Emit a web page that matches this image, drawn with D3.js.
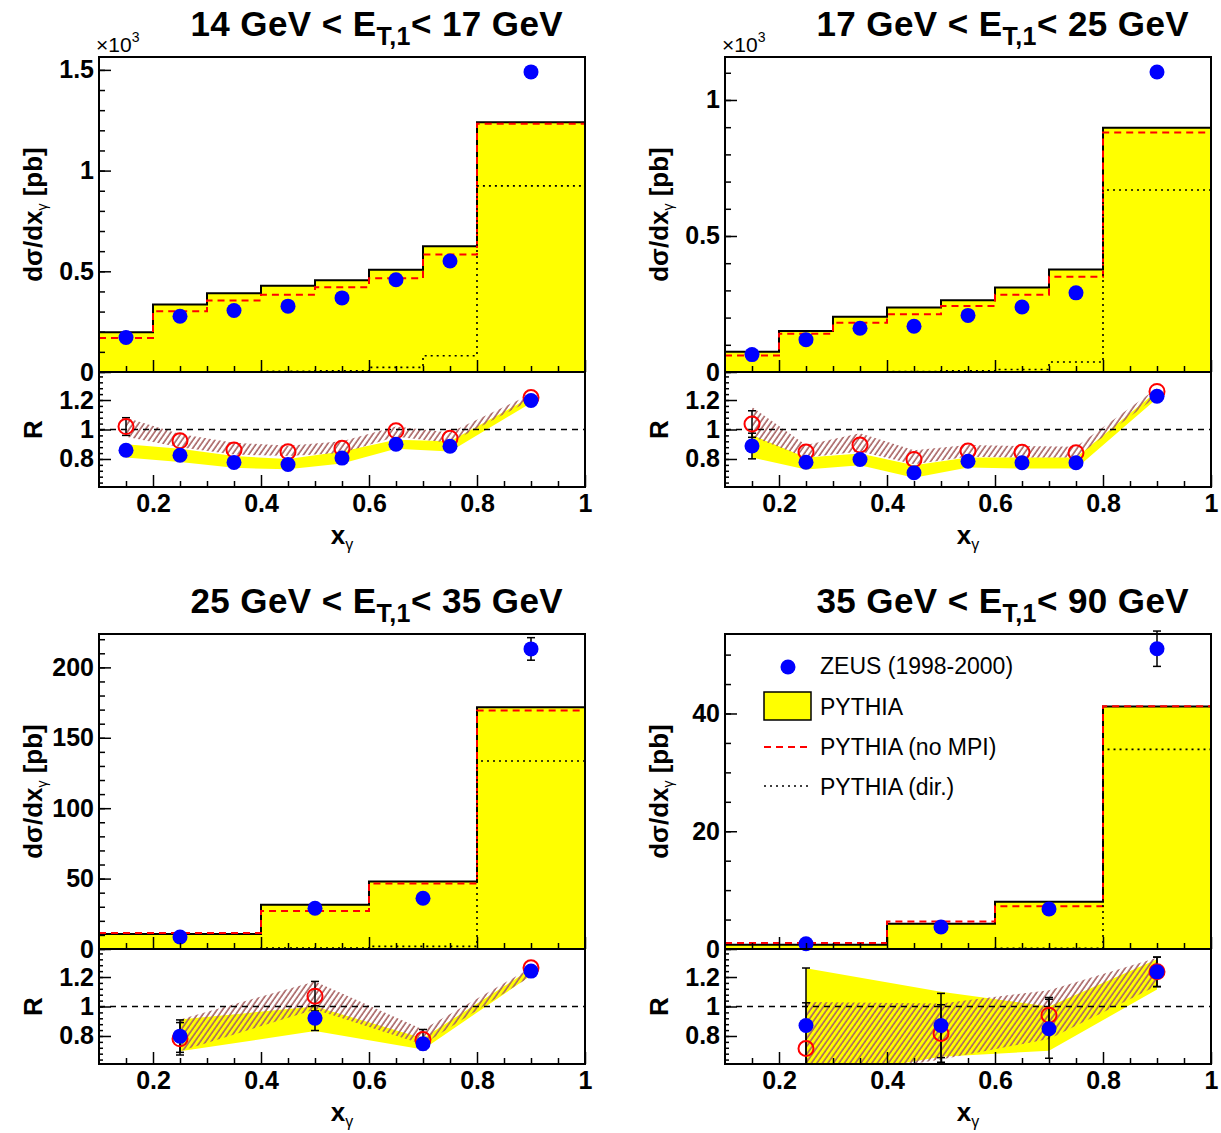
<!DOCTYPE html>
<html>
<head>
<meta charset="utf-8">
<script src="https://cdn.jsdelivr.net/npm/d3@7"></script>
<style>
  body { margin: 0; background: #fff; }
  text { font-family: "Liberation Sans", Arial, Helvetica, sans-serif; }
</style>
</head>
<body>
<div id="chart"></div>
<script>
// ---- bin layout (x_gamma) ----
var edgesFine = [0.1, 0.2, 0.3, 0.4, 0.5, 0.6, 0.7, 0.8, 1.0];
var edgesCoarse = [0.1, 0.4, 0.6, 0.8, 1.0];
var xFine = [0.15, 0.25, 0.35, 0.45, 0.55, 0.65, 0.75, 0.9];
var xCoarse = [0.25, 0.5, 0.7, 0.9];

// ---- 14 GeV < ET,1 < 17 GeV (x10^3 pb) ----
var p1Pythia = [0.197, 0.335, 0.391, 0.428, 0.455, 0.508, 0.624, 1.240];
var p1NoMpi  = [0.169, 0.302, 0.355, 0.383, 0.421, 0.466, 0.584, 1.233];
var p1Dir    = [0.000, 0.000, 0.001, 0.003, 0.006, 0.023, 0.081, 0.924];
var p1Zeus   = [0.171, 0.277, 0.305, 0.327, 0.368, 0.458, 0.551, 1.490];
var p1ZeusErr = [0.004, 0.005, 0.005, 0.005, 0.006, 0.007, 0.008, 0.015];
var p1R      = [0.859, 0.825, 0.777, 0.763, 0.806, 0.900, 0.886, 1.197];
var p1RErr   = [0.05, 0.015, 0.015, 0.015, 0.015, 0.015, 0.015, 0.012];
var p1RNoMpi = [1.020, 0.923, 0.861, 0.849, 0.872, 0.991, 0.941, 1.217];
var p1RNoMpiErr = [0.06, 0.015, 0.015, 0.015, 0.015, 0.015, 0.015, 0.012];
var p1BandLo  = [0.81, 0.78, 0.74, 0.73, 0.77, 0.87, 0.85, 1.18];
var p1BandHi  = [0.90, 0.87, 0.82, 0.80, 0.85, 0.93, 0.92, 1.22];
var p1HatchLo = [0.95, 0.88, 0.83, 0.82, 0.84, 0.95, 0.91, 1.20];
var p1HatchHi = [1.08, 0.97, 0.91, 0.89, 0.92, 1.02, 0.98, 1.24];

// ---- 17 GeV < ET,1 < 25 GeV (x10^3 pb) ----
var p2Pythia = [0.074, 0.151, 0.203, 0.237, 0.264, 0.311, 0.377, 0.898];
var p2NoMpi  = [0.061, 0.141, 0.181, 0.212, 0.243, 0.284, 0.350, 0.880];
var p2Dir    = [0.000, 0.000, 0.001, 0.002, 0.004, 0.009, 0.037, 0.669];
var p2Zeus   = [0.064, 0.119, 0.161, 0.168, 0.208, 0.239, 0.291, 1.103];
var p2ZeusErr = [0.004, 0.004, 0.005, 0.005, 0.005, 0.006, 0.007, 0.015];
var p2R      = [0.888, 0.778, 0.797, 0.707, 0.785, 0.774, 0.774, 1.226];
var p2RErr   = [0.087, 0.015, 0.015, 0.015, 0.015, 0.015, 0.015, 0.015];
var p2RNoMpi = [1.037, 0.847, 0.895, 0.797, 0.854, 0.845, 0.842, 1.258];
var p2RNoMpiErr = [0.09, 0.015, 0.015, 0.015, 0.015, 0.015, 0.015, 0.015];
var p2BandLo  = [0.81, 0.728, 0.758, 0.673, 0.742, 0.735, 0.735, 1.21];
var p2BandHi  = [0.963, 0.81, 0.838, 0.758, 0.81, 0.81, 0.81, 1.26];
var p2HatchLo = [0.952, 0.81, 0.85, 0.765, 0.815, 0.81, 0.81, 1.226];
var p2HatchHi = [1.153, 0.895, 0.975, 0.86, 0.895, 0.888, 0.883, 1.28];

// ---- 25 GeV < ET,1 < 35 GeV (pb) ----
var p3Pythia = [10.6, 31.5, 48.0, 171.6];
var p3NoMpi  = [11.4, 27.0, 46.6, 169.3];
var p3Dir    = [0.0, 0.7, 1.9, 133.5];
var p3Zeus   = [8.5, 28.9, 36.0, 213.1];
var p3ZeusErr = [0.5, 1.2, 1.5, 8.0];
var p3R      = [0.799, 0.921, 0.747, 1.24];
var p3RErr   = [0.11, 0.084, 0.05, 0.02];
var p3RNoMpi = [0.781, 1.07, 0.776, 1.262];
var p3RNoMpiErr = [0.11, 0.10, 0.068, 0.02];
var p3BandLo  = [0.697, 0.833, 0.708, 1.21];
var p3BandHi  = [0.912, 1.00, 0.785, 1.255];
var p3HatchLo = [0.697, 0.98, 0.742, 1.206];
var p3HatchHi = [0.912, 1.17, 0.844, 1.262];

// ---- 35 GeV < ET,1 < 90 GeV (pb) ----
var p4Pythia = [0.73, 4.30, 8.04, 41.2];
var p4NoMpi  = [1.02, 4.69, 7.24, 41.25];
var p4Dir    = [0.02, 0.05, 0.1, 33.9];
var p4Zeus   = [0.9, 3.74, 6.8, 51.0];
var p4ZeusErr = [0.1, 0.3, 0.5, 3.0];
var p4R      = [0.871, 0.871, 0.849, 1.235];
var p4RErr   = [0.39, 0.218, 0.2, 0.10];
var p4RNoMpi = [0.715, 0.817, 0.941, 1.235];
var p4RNoMpiErr = [0.31, 0.195, 0.12, 0.10];
var p4BandLo  = [0.50, 0.66, 0.70, 1.115];
var p4BandHi  = [1.26, 1.10, 1.00, 1.32];
var p4HatchLo = [0.50, 0.64, 0.78, 1.14];
var p4HatchHi = [1.03, 1.02, 1.11, 1.33];

// ---- tick labels ----
var xTicks = [0.2, 0.4, 0.6, 0.8, 1.0];
var rTicks = [0.8, 1.0, 1.2];

function init() {
    var w = 1221, h = 1133;
    var svg = d3.select("#chart").append("svg")
        .attr("width", w).attr("height", h);

    var defs = svg.append("defs");
    defs.append("pattern")
        .attr("id", "hatch")
        .attr("patternUnits", "userSpaceOnUse")
        .attr("width", 4.5).attr("height", 10)
        .attr("patternTransform", "rotate(35)")
        .append("line")
        .attr("x1", 1).attr("y1", 0).attr("x2", 1).attr("y2", 10)
        .attr("stroke", "#a86464").attr("stroke-width", 1.6);

    var panels = [
        { lo: "14", hi: "17", box: { x0: 99, x1: 585, yT: 57, yS: 372, yB: 487 },
          edges: edgesFine, xs: xFine, pythia: p1Pythia, noMpi: p1NoMpi, dir: p1Dir,
          zeus: p1Zeus, zeusErr: p1ZeusErr, r: p1R, rErr: p1RErr, rn: p1RNoMpi, rnErr: p1RNoMpiErr,
          bLo: p1BandLo, bHi: p1BandHi, hLo: p1HatchLo, hHi: p1HatchHi,
          yMax: 1.564, yMajor: [0, 0.5, 1, 1.5], yMinor: 0.1, exp: true },
        { lo: "17", hi: "25", box: { x0: 725, x1: 1211, yT: 57, yS: 372, yB: 487 },
          edges: edgesFine, xs: xFine, pythia: p2Pythia, noMpi: p2NoMpi, dir: p2Dir,
          zeus: p2Zeus, zeusErr: p2ZeusErr, r: p2R, rErr: p2RErr, rn: p2RNoMpi, rnErr: p2RNoMpiErr,
          bLo: p2BandLo, bHi: p2BandHi, hLo: p2HatchLo, hHi: p2HatchHi,
          yMax: 1.158, yMajor: [0, 0.5, 1], yMinor: 0.1, exp: true },
        { lo: "25", hi: "35", box: { x0: 99, x1: 585, yT: 634, yS: 949, yB: 1064 },
          edges: edgesCoarse, xs: xCoarse, pythia: p3Pythia, noMpi: p3NoMpi, dir: p3Dir,
          zeus: p3Zeus, zeusErr: p3ZeusErr, r: p3R, rErr: p3RErr, rn: p3RNoMpi, rnErr: p3RNoMpiErr,
          bLo: p3BandLo, bHi: p3BandHi, hLo: p3HatchLo, hHi: p3HatchHi,
          yMax: 223.7, yMajor: [0, 50, 100, 150, 200], yMinor: 10, exp: false },
        { lo: "35", hi: "90", box: { x0: 725, x1: 1211, yT: 634, yS: 949, yB: 1064 },
          edges: edgesCoarse, xs: xCoarse, pythia: p4Pythia, noMpi: p4NoMpi, dir: p4Dir,
          zeus: p4Zeus, zeusErr: p4ZeusErr, r: p4R, rErr: p4RErr, rn: p4RNoMpi, rnErr: p4RNoMpiErr,
          bLo: p4BandLo, bHi: p4BandHi, hLo: p4HatchLo, hHi: p4HatchHi,
          yMax: 53.5, yMajor: [0, 20, 40], yMinor: 5, exp: false, legend: true }
    ];

    var xMinor = d3.range(0.15, 1.0, 0.05).filter(function (v) {
        return Math.abs(v * 5 - Math.round(v * 5)) > 1e-6;
    });
    var rMinor = d3.range(0.64, 1.38, 0.04);

    panels.forEach(function (p, i) {
        var b = p.box;
        var g = svg.append("g");

        var x = d3.scaleLinear().domain([0.1, 1.0]).range([b.x0, b.x1]);
        var y = d3.scaleLinear().domain([0, p.yMax]).range([b.yS, b.yT]);
        var yr = d3.scaleLinear().domain([0.61, 1.39]).range([b.yB, b.yS]);

        // step histograms
        function pts(vals) {
            return p.edges.map(function (e, k) { return [e, vals[Math.min(k, vals.length - 1)]]; });
        }
        var step = d3.line().curve(d3.curveStepAfter)
            .x(function (d) { return x(d[0]); })
            .y(function (d) { return y(d[1]); });
        var stepArea = d3.area().curve(d3.curveStepAfter)
            .x(function (d) { return x(d[0]); })
            .y0(y(0))
            .y1(function (d) { return y(d[1]); });

        g.append("path").attr("d", stepArea(pts(p.pythia))).attr("fill", "#ffff00");
        g.append("path").attr("d", step(pts(p.pythia)))
            .attr("fill", "none").attr("stroke", "#000").attr("stroke-width", 2);
        g.append("path").attr("d", step(pts(p.noMpi)))
            .attr("fill", "none").attr("stroke", "#ff0000").attr("stroke-width", 2)
            .attr("stroke-dasharray", "7,5");
        g.append("path").attr("d", step(pts(p.dir)))
            .attr("fill", "none").attr("stroke", "#000").attr("stroke-width", 1.6)
            .attr("stroke-dasharray", "2,4");

        // error bar helper: skipped when hidden behind the marker
        function errBar(sel, cx, yLo, yHi) {
            if (Math.abs(yLo - yHi) < 15) return;
            sel.append("line").attr("x1", cx).attr("x2", cx)
                .attr("y1", yLo).attr("y2", yHi)
                .attr("stroke", "#000").attr("stroke-width", 1.5);
            [yLo, yHi].forEach(function (v) {
                sel.append("line").attr("x1", cx - 4).attr("x2", cx + 4)
                    .attr("y1", v).attr("y2", v)
                    .attr("stroke", "#000").attr("stroke-width", 1.5);
            });
        }

        // ZEUS data
        var up = g.append("g");
        p.xs.forEach(function (xv, k) {
            errBar(up, x(xv), y(p.zeus[k] - p.zeusErr[k]), y(p.zeus[k] + p.zeusErr[k]));
        });
        up.selectAll("circle").data(p.xs).enter().append("circle")
            .attr("cx", function (d) { return x(d); })
            .attr("cy", function (d, k) { return y(p.zeus[k]); })
            .attr("r", 7.5).attr("fill", "#0000ff");

        // ratio pad
        var clipId = "clipR" + i;
        defs.append("clipPath").attr("id", clipId).append("rect")
            .attr("x", b.x0).attr("y", b.yS).attr("width", b.x1 - b.x0).attr("height", b.yB - b.yS);
        var rg = g.append("g").attr("clip-path", "url(#" + clipId + ")");

        var band = function (lo, hi) {
            return d3.area()
                .x(function (d) { return x(d); })
                .y0(function (d, k) { return yr(lo[k]); })
                .y1(function (d, k) { return yr(hi[k]); })(p.xs);
        };
        rg.append("path").attr("d", band(p.bLo, p.bHi)).attr("fill", "#ffff00");
        rg.append("path").attr("d", band(p.hLo, p.hHi)).attr("fill", "url(#hatch)");

        rg.append("line").attr("x1", b.x0).attr("x2", b.x1)
            .attr("y1", yr(1)).attr("y2", yr(1))
            .attr("stroke", "#000").attr("stroke-width", 1.5).attr("stroke-dasharray", "6,5");

        p.xs.forEach(function (xv, k) {
            errBar(rg, x(xv), yr(p.rn[k] - p.rnErr[k]), yr(p.rn[k] + p.rnErr[k]));
            errBar(rg, x(xv), yr(p.r[k] - p.rErr[k]), yr(p.r[k] + p.rErr[k]));
        });

        rg.selectAll("circle.open").data(p.xs).enter().append("circle")
            .attr("class", "open")
            .attr("cx", function (d) { return x(d); })
            .attr("cy", function (d, k) { return yr(p.rn[k]); })
            .attr("r", 7.5).attr("fill", "none").attr("stroke", "#ff0000").attr("stroke-width", 2);
        rg.selectAll("circle.full").data(p.xs).enter().append("circle")
            .attr("class", "full")
            .attr("cx", function (d) { return x(d); })
            .attr("cy", function (d, k) { return yr(p.r[k]); })
            .attr("r", 7.5).attr("fill", "#0000ff");

        // axes (ticks inside the frame)
        function styleAxis(sel) {
            sel.select(".domain").remove();
            sel.selectAll("line").attr("stroke", "#000").attr("stroke-width", 1.5);
            sel.selectAll("text").attr("font-size", "25px").attr("font-weight", "bold")
                .attr("fill", "#000");
        }
        var fmtY = function (d) { return d3.format("~g")(d); };

        g.append("g").attr("transform", "translate(" + b.x0 + ",0)")
            .call(d3.axisLeft(y).tickValues(d3.range(0, p.yMax, p.yMinor)).tickSize(-6).tickFormat(""))
            .call(styleAxis);
        g.append("g").attr("transform", "translate(" + b.x0 + ",0)")
            .call(d3.axisLeft(y).tickValues(p.yMajor).tickSize(-12).tickPadding(5).tickFormat(fmtY))
            .call(styleAxis);

        g.append("g").attr("transform", "translate(0," + b.yS + ")")
            .call(d3.axisBottom(x).tickValues(xMinor).tickSize(-6).tickFormat(""))
            .call(styleAxis);
        g.append("g").attr("transform", "translate(0," + b.yS + ")")
            .call(d3.axisBottom(x).tickValues(xTicks).tickSize(-12).tickFormat(""))
            .call(styleAxis);

        g.append("g").attr("transform", "translate(" + b.x0 + ",0)")
            .call(d3.axisLeft(yr).tickValues(rMinor).tickSize(-4).tickFormat(""))
            .call(styleAxis);
        g.append("g").attr("transform", "translate(" + b.x0 + ",0)")
            .call(d3.axisLeft(yr).tickValues(rTicks).tickSize(-12).tickPadding(5).tickFormat(fmtY))
            .call(styleAxis);

        g.append("g").attr("transform", "translate(0," + b.yB + ")")
            .call(d3.axisBottom(x).tickValues(xMinor).tickSize(-6).tickFormat(""))
            .call(styleAxis);
        g.append("g").attr("transform", "translate(0," + b.yB + ")")
            .call(d3.axisBottom(x).tickValues(xTicks).tickSize(-12).tickPadding(7).tickFormat(fmtY))
            .call(styleAxis);

        // frames
        g.append("rect").attr("x", b.x0).attr("y", b.yT)
            .attr("width", b.x1 - b.x0).attr("height", b.yS - b.yT)
            .attr("fill", "none").attr("stroke", "#000").attr("stroke-width", 2);
        g.append("rect").attr("x", b.x0).attr("y", b.yS)
            .attr("width", b.x1 - b.x0).attr("height", b.yB - b.yS)
            .attr("fill", "none").attr("stroke", "#000").attr("stroke-width", 2);

        // title
        var t = g.append("text").attr("x", b.x1 - 22).attr("y", b.yT - 21)
            .attr("text-anchor", "end").attr("font-size", "35px").attr("font-weight", "bold")
            .attr("letter-spacing", "0.4px");
        t.append("tspan").text(p.lo + " GeV < E");
        t.append("tspan").attr("dy", 9).attr("font-size", "25px").text("T,1");
        t.append("tspan").attr("dy", -9).text("< " + p.hi + " GeV");

        if (p.exp) {
            var ex = g.append("text").attr("x", b.x0 - 3).attr("y", b.yT - 5)
                .attr("font-size", "21px");
            ex.append("tspan").text("\u00d710");
            ex.append("tspan").attr("dy", -10).attr("font-size", "14px").text("3");
        }

        // axis titles
        var yt = g.append("text")
            .attr("transform", "translate(" + (b.x0 - 57) + "," + ((b.yT + b.yS) / 2) + ") rotate(-90)")
            .attr("text-anchor", "middle").attr("font-size", "26px").attr("font-weight", "bold");
        yt.append("tspan").text("d\u03c3/dx");
        yt.append("tspan").attr("dy", 5).attr("font-size", "14px").attr("font-weight", "normal").text("\u03b3");
        yt.append("tspan").attr("dy", -5).text(" [pb]");

        g.append("text")
            .attr("transform", "translate(" + (b.x0 - 57) + "," + ((b.yS + b.yB) / 2) + ") rotate(-90)")
            .attr("text-anchor", "middle").attr("font-size", "26px").attr("font-weight", "bold")
            .text("R");

        var xt = g.append("text").attr("x", (b.x0 + b.x1) / 2).attr("y", b.yB + 57)
            .attr("text-anchor", "middle").attr("font-size", "26px").attr("font-weight", "bold");
        xt.append("tspan").text("x");
        xt.append("tspan").attr("dy", 6).attr("font-size", "16px").attr("font-weight", "normal").text("\u03b3");

        if (p.legend) {
            var lg = g.append("g").attr("font-size", "23px");
            lg.append("circle").attr("cx", 788).attr("cy", 667).attr("r", 7.5).attr("fill", "#0000ff");
            lg.append("text").attr("x", 820).attr("y", 674).text("ZEUS (1998-2000)");
            lg.append("rect").attr("x", 764).attr("y", 692).attr("width", 47).attr("height", 28)
                .attr("fill", "#ffff00").attr("stroke", "#000").attr("stroke-width", 1.5);
            lg.append("text").attr("x", 820).attr("y", 715).text("PYTHIA");
            lg.append("line").attr("x1", 764).attr("x2", 811).attr("y1", 747).attr("y2", 747)
                .attr("stroke", "#ff0000").attr("stroke-width", 1.8).attr("stroke-dasharray", "7,5");
            lg.append("text").attr("x", 820).attr("y", 755).text("PYTHIA (no MPI)");
            lg.append("line").attr("x1", 764).attr("x2", 809).attr("y1", 786).attr("y2", 786)
                .attr("stroke", "#000").attr("stroke-width", 1.5).attr("stroke-dasharray", "2,4");
            lg.append("text").attr("x", 820).attr("y", 795).text("PYTHIA (dir.)");
        }
    });
}
window.onload = init;
</script>
</body>
</html>
